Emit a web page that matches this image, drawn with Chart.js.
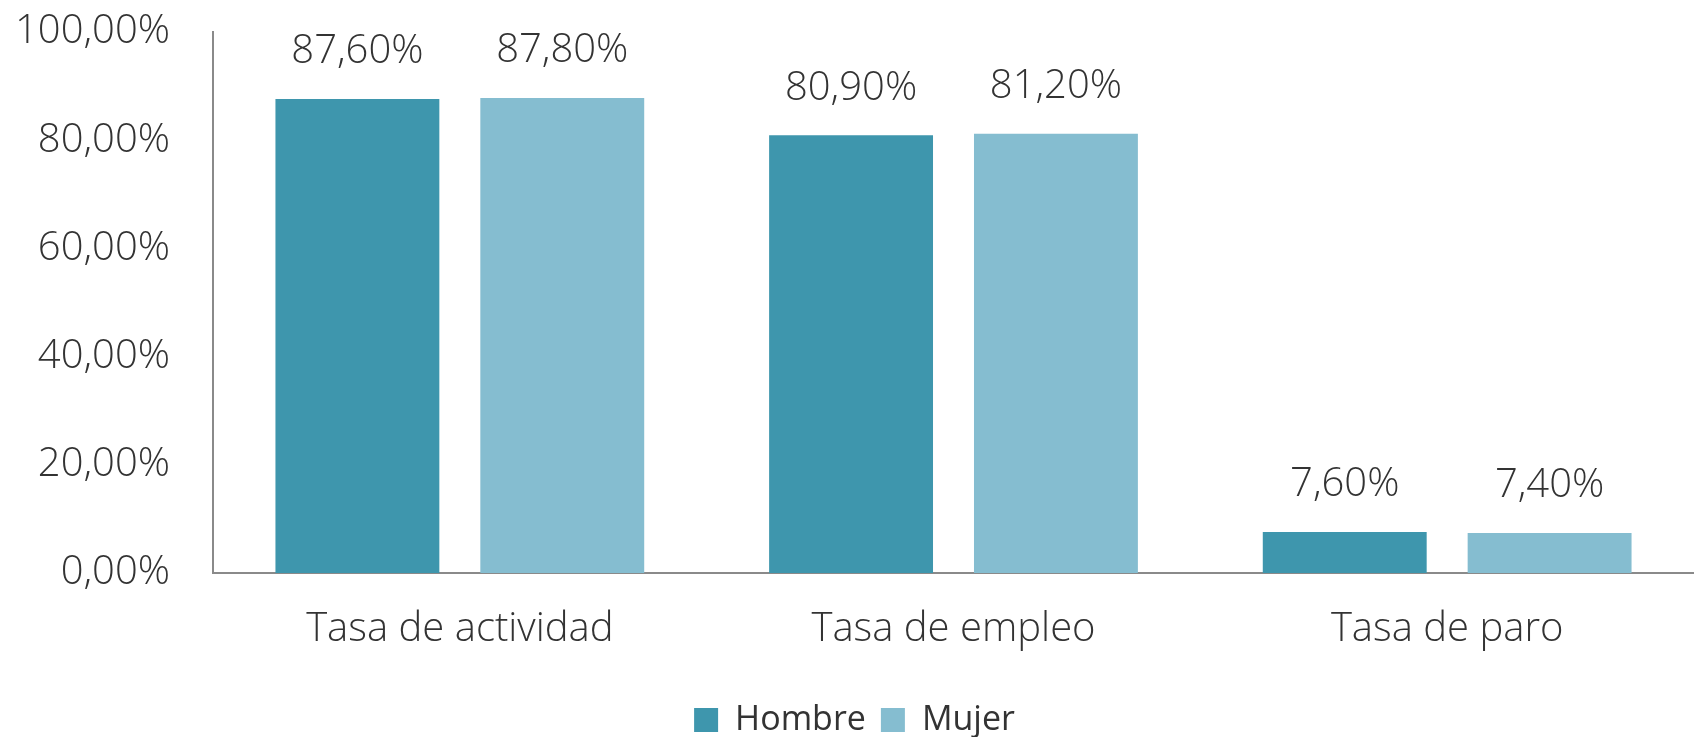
<!DOCTYPE html>
<html>
<head>
<meta charset="utf-8">
<script src="https://cdn.jsdelivr.net/npm/chart.js@4.4.1/dist/chart.umd.min.js"></script>
<style>
  html, body { margin: 0; padding: 0; background: #fff; }
  #wrap { width: 1694px; height: 737px; position: relative; }
</style>
</head>
<body>
<div id="wrap"><canvas id="chart"></canvas></div>
<script>
// datos
const categorias = ['Tasa de actividad', 'Tasa de empleo', 'Tasa de paro'];
const hombre = [87.6, 80.9, 7.6];
const mujer = [87.8, 81.2, 7.4];
const ticksY = [0, 20, 40, 60, 80, 100];

const FONT = '"Open Sans", sans-serif';
const TEXT = '#333333';
const SIZE = 40;

const fmt = v => v.toFixed(2).replace('.', ',') + '%';

// etiquetas de valor encima de cada barra
const valueLabels = {
  id: 'valueLabels',
  afterDatasetsDraw(chart) {
    const ctx = chart.ctx;
    ctx.save();
    ctx.font = '300 ' + SIZE + 'px ' + FONT;
    ctx.fillStyle = TEXT;
    ctx.textAlign = 'center';
    ctx.textBaseline = 'middle';
    chart.data.datasets.forEach((ds, i) => {
      chart.getDatasetMeta(i).data.forEach((bar, j) => {
        ctx.fillText(fmt(ds.data[j]), bar.x, bar.y - 47);
      });
    });
    ctx.restore();
  }
};

new Chart(document.getElementById('chart'), {
  type: 'bar',
  data: {
    labels: categorias,
    datasets: [
      { label: 'Hombre', data: hombre, backgroundColor: '#3e96ad', categoryPercentage: 0.83, barPercentage: 0.8 },
      { label: 'Mujer', data: mujer, backgroundColor: '#85bdd0', categoryPercentage: 0.83, barPercentage: 0.8 },
    ]
  },
  options: {
    responsive: true,
    maintainAspectRatio: false,
    animation: false,
    layout: { padding: { top: 32, right: -15, bottom: -10, left: 0 } },
    scales: {
      x: {
        afterFit: axis => {
          axis.height = 115;
          axis.paddingLeft = 0;
          axis.paddingRight = 0;
        },
        grid: { display: false, drawTicks: false },
        border: { display: true, color: '#8a8a8a', width: 2 },
        ticks: { color: TEXT, font: { family: FONT, size: SIZE, weight: 300 }, padding: 33 }
      },
      y: {
        min: 0,
        max: 100,
        afterBuildTicks: axis => { axis.ticks = ticksY.map(v => ({ value: v })); },
        afterFit: axis => {
          axis.width = 213;
          axis.paddingTop = 0;
          axis.paddingBottom = 0;
        },
        grid: { display: false, drawTicks: false },
        border: { display: true, color: '#8a8a8a', width: 2 },
        ticks: {
          color: TEXT,
          font: { family: FONT, size: SIZE, weight: 300 },
          padding: 43,
          callback: v => fmt(v)
        }
      }
    },
    plugins: {
      legend: {
        position: 'bottom',
        labels: {
          color: TEXT,
          font: { family: FONT, size: 34 },
          boxWidth: 24,
          boxHeight: 24,
          padding: 15
        }
      },
      tooltip: { enabled: false }
    }
  },
  plugins: [valueLabels]
});
</script>
</body>
</html>
